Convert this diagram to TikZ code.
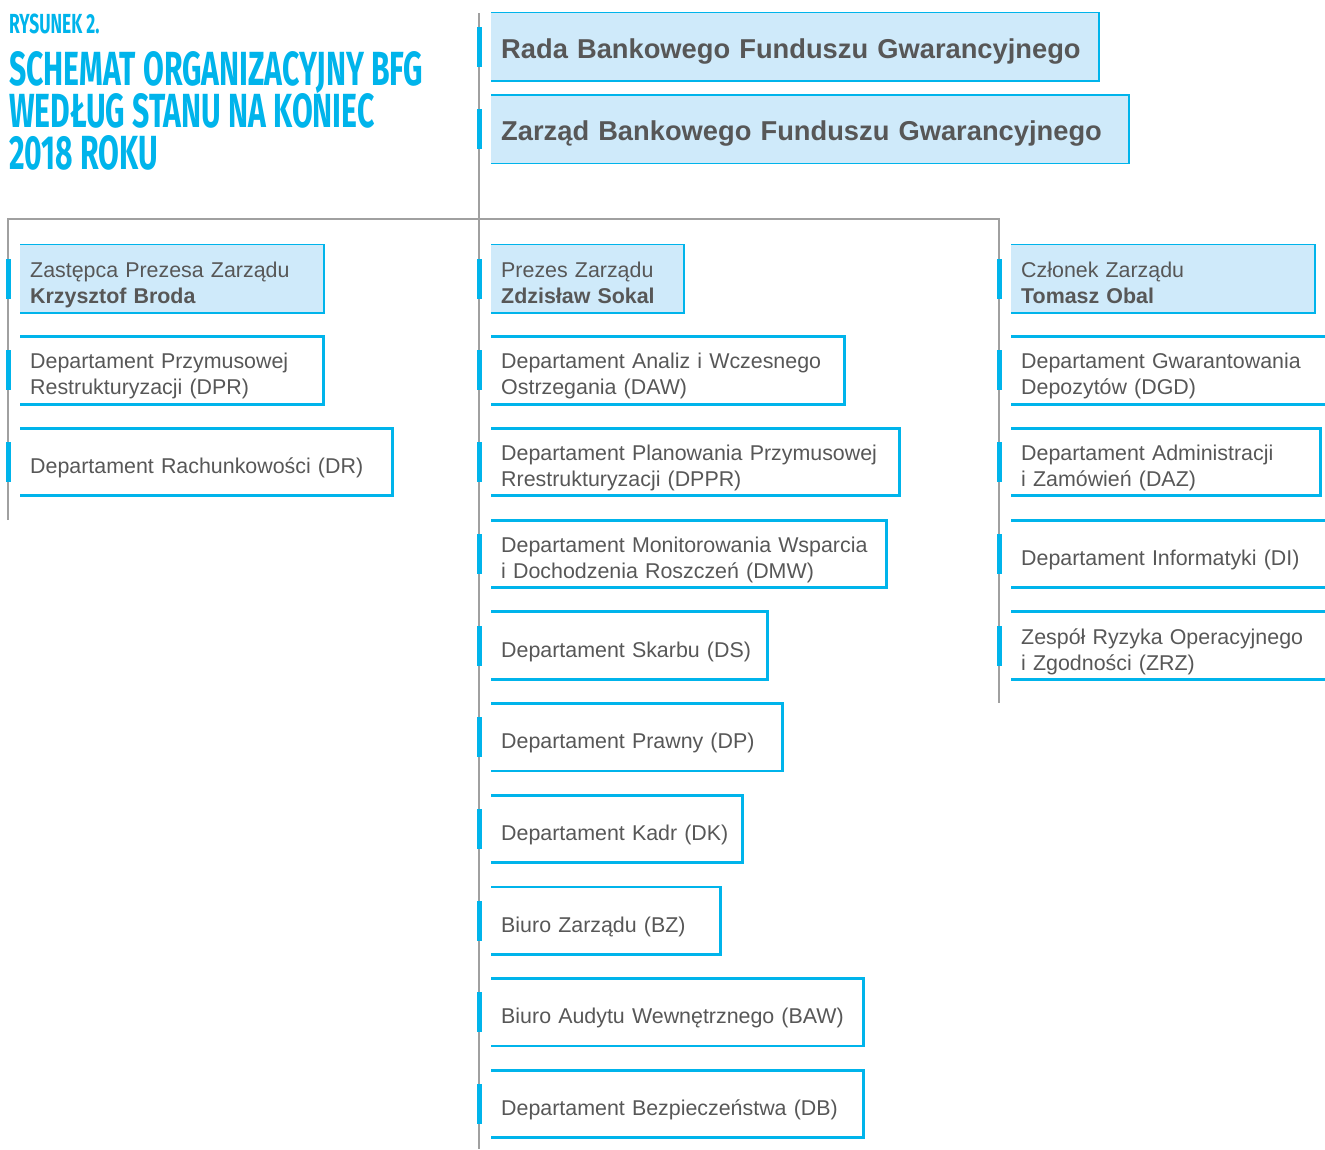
\documentclass[tikz,border=0pt]{standalone}
\usepackage{fontspec}
\setmainfont{Liberation Sans}
\newfontfamily\titlefont[FakeStretch=0.63]{Fira Sans}
\usepackage{xcolor}
\usetikzlibrary{positioning}
\definecolor{bfgblue}{RGB}{0,180,235}
\definecolor{bfgfill}{RGB}{207,234,250}
\definecolor{bfgtext}{RGB}{87,87,87}
\definecolor{bfggray}{RGB}{160,160,160}

\begin{document}
\begin{tikzpicture}[x=1pt, y=-1pt,
	box/.style={anchor=north west, inner xsep=10pt, inner ysep=0pt, minimum height=67pt, align=left, text=bfgtext, font=\fontsize{21.4}{26}\selectfont,
		execute at begin node={\rule{0pt}{29pt}}, execute at end node={\rule[-6pt]{0pt}{0pt}},
		append after command={\pgfextra{
			\draw[bfgblue, line width=2.8pt] (\tikzlastnode.north west) -- (\tikzlastnode.north east) -- (\tikzlastnode.south east) -- (\tikzlastnode.south west);
			\fill[bfgblue] ([xshift=-14.5pt, yshift=20pt]\tikzlastnode.west) rectangle ([xshift=-9.5pt, yshift=-20pt]\tikzlastnode.west);
		}}},
	head/.style={box, fill=bfgfill},
	board/.style={head, font=\fontsize{27.3}{30}\selectfont\bfseries},
	trunk/.style={draw=bfggray, line width=1.5pt},
	title/.style={anchor=base west, inner sep=0pt, text height=33pt, text depth=0pt, text=bfgblue, font=\titlefont\bfseries\fontsize{47.9}{42}\selectfont}]
	\useasboundingbox (0,0) rectangle (1325,1149);
	
	\node[title, text height=19pt, font=\titlefont\bfseries\fontsize{27.6}{28}\selectfont](FIG) at (9,33){RYSUNEK 2.};
	\node[title](T1) at (9,85){SCHEMAT ORGANIZACYJNY BFG};
	\node[title](T2) at (9,127){WEDŁUG STANU NA KONIEC};
	\node[title](T3) at (9,169){2018 ROKU};
	
	\coordinate(TOP) at (479,13);
	\coordinate(BOT) at (479,1149);
	\coordinate(HL) at (8,219);
	\coordinate(HR) at (999,219);
	\coordinate(LE) at (8,520);
	\coordinate(RE) at (999,703);
	
	\draw[trunk] (TOP) -- (BOT);
	\draw[trunk] (LE) -- (HL) -- (HR) -- (RE);
	
	\node[board, text width=587pt](RADA) at (491,13){Rada Bankowego Funduszu Gwarancyjnego};
	\node[board, text width=617pt, below right=15pt and 0pt of RADA.south west](ZARZAD){Zarząd Bankowego Funduszu Gwarancyjnego};
	
	\node[head, text width=283pt](L1) at (20,245){Zastępca Prezesa Zarządu\\\textbf{Krzysztof Broda}};
	\node[box, text width=283pt, below right=24.3pt and 0pt of L1.south west](L2){Departament Przymusowej\\Restrukturyzacji (DPR)};
	\node[box, text width=352pt, below right=24.3pt and 0pt of L2.south west](L3){Departament Rachunkowości (DR)};
	
	\node[head, text width=172pt](M1) at (491,245){Prezes Zarządu\\\textbf{Zdzisław Sokal}};
	\node[box, text width=333pt, below right=24.3pt and 0pt of M1.south west](M2){Departament Analiz i Wczesnego\\Ostrzegania (DAW)};
	\node[box, text width=388pt, below right=24.3pt and 0pt of M2.south west](M3){Departament Planowania Przymusowej\\Rrestrukturyzacji (DPPR)};
	\node[box, text width=375pt, below right=24.3pt and 0pt of M3.south west](M4){Departament Monitorowania Wsparcia\\i Dochodzenia Roszczeń (DMW)};
	\node[box, text width=256pt, below right=24.3pt and 0pt of M4.south west](M5){Departament Skarbu (DS)};
	\node[box, text width=271pt, below right=24.3pt and 0pt of M5.south west](M6){Departament Prawny (DP)};
	\node[box, text width=231pt, below right=24.3pt and 0pt of M6.south west](M7){Departament Kadr (DK)};
	\node[box, text width=209pt, below right=24.3pt and 0pt of M7.south west](M8){Biuro Zarządu (BZ)};
	\node[box, text width=352pt, below right=24.3pt and 0pt of M8.south west](M9){Biuro Audytu Wewnętrznego (BAW)};
	\node[box, text width=352pt, below right=24.3pt and 0pt of M9.south west](M10){Departament Bezpieczeństwa (DB)};
	
	\node[head, text width=283pt](R1) at (1011,245){Członek Zarządu\\\textbf{Tomasz Obal}};
	\node[box, text width=320pt, below right=24.3pt and 0pt of R1.south west](R2){Departament Gwarantowania\\Depozytów (DGD)};
	\node[box, text width=289pt, below right=24.3pt and 0pt of R2.south west](R3){Departament Administracji\\i Zamówień (DAZ)};
	\node[box, text width=320pt, below right=24.3pt and 0pt of R3.south west](R4){Departament Informatyki (DI)};
	\node[box, text width=320pt, below right=24.3pt and 0pt of R4.south west](R5){Zespół Ryzyka Operacyjnego\\i Zgodności (ZRZ)};
\end{tikzpicture}
\end{document}
